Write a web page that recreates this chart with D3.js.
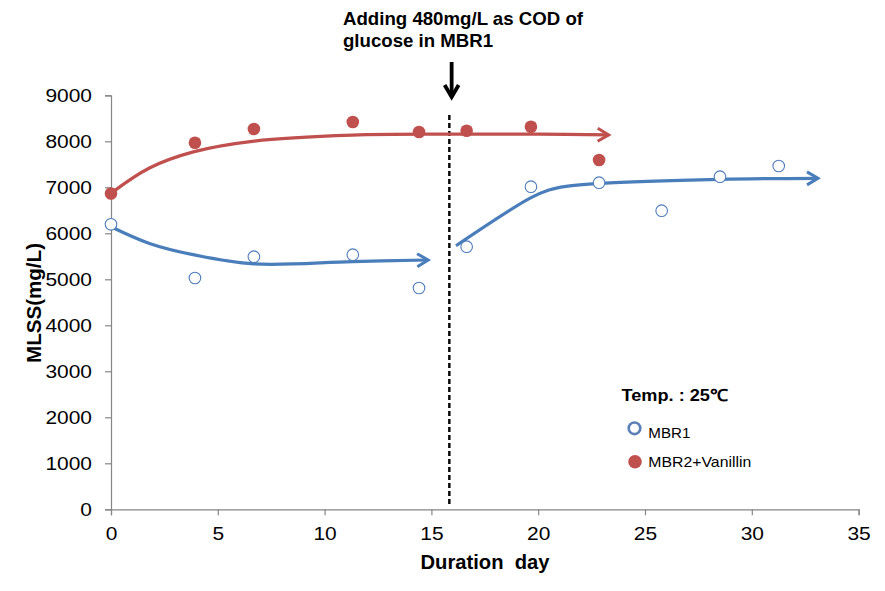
<!DOCTYPE html>
<html>
<head>
<meta charset="utf-8">
<script src="https://cdn.jsdelivr.net/npm/d3@7"></script>
<style>
  html, body { margin: 0; padding: 0; background: #fff; }
  svg { display: block; font-family: "Liberation Sans", Arial, sans-serif; }
</style>
</head>
<body>
<svg id="chart" width="885" height="591"></svg>
<script>
// ---- data ----
const xTicks = [0, 5, 10, 15, 20, 25, 30, 35];
const yTicks = [0, 1000, 2000, 3000, 4000, 5000, 6000, 7000, 8000, 9000];

// MBR1 (open circles)
const mbr1Day = [0, 3.93, 6.69, 11.32, 14.42, 16.65, 19.66, 22.85, 25.78, 28.51, 31.26];
const mbr1Mlss = [6196, 5028, 5491, 5535, 4811, 5709, 7013, 7100, 6491, 7230, 7463];

// MBR2+Vanillin (filled circles)
const mbr2Day = [0, 3.93, 6.69, 11.32, 14.42, 16.65, 19.66, 22.85];
const mbr2Mlss = [6865, 7970, 8267, 8420, 8202, 8230, 8317, 7593];

// hand-drawn trend arrows (day, MLSS)
const redTrendDay = [0, 1.8, 3.9, 6.7, 11.3, 15.9, 20.0, 23.3];
const redTrendVal = [6870, 7420, 7775, 8005, 8135, 8155, 8155, 8140];
const blueTrend1Day = [0, 1.8, 3.9, 6.7, 11.3, 14.85];
const blueTrend1Val = [6143, 5780, 5530, 5335, 5385, 5420];
const blueTrend2Day = [16.15, 19.6, 20.5, 21.3, 22.9, 28.5, 33.1];
const blueTrend2Val = [5730, 6760, 6940, 7020, 7085, 7172, 7196];

const eventDay = 15.84;
const annotationLines = ["Adding 480mg/L as COD of", "glucose in MBR1"];
const legendTitle = "Temp. : 25\u2103";
const seriesNames = ["MBR1", "MBR2+Vanillin"];
const xTitle = "Duration  day";
const yTitle = "MLSS(mg/L)";

// ---- styles ----
const RED = "#c0504d";
const BLUE = "#4a7ebb";
const AXIS = "#868686";
const WIDEN = 1.12;

const svg = d3.select("#chart");
const x = d3.scaleLinear().domain([0, 35]).range([111, 858.6]);
const y = d3.scaleLinear().domain([0, 9000]).range([509.3, 95.3]);

function widen(sel, f) {
  sel.each(function () {
    const w = this.getComputedTextLength();
    d3.select(this).attr("textLength", w * f).attr("lengthAdjust", "spacingAndGlyphs");
  });
}

// arrow markers
const defs = svg.append("defs");
function marker(id, color) {
  defs.append("marker")
    .attr("id", id)
    .attr("markerUnits", "userSpaceOnUse")
    .attr("markerWidth", 30).attr("markerHeight", 30)
    .attr("viewBox", "-15 -15 30 30")
    .attr("refX", 0).attr("refY", 0)
    .attr("orient", "auto")
    .append("path")
    .attr("d", "M-11,-6.5 L0,0 L-11,6.5")
    .attr("fill", "none")
    .attr("stroke", color)
    .attr("stroke-width", 3)
    .attr("stroke-linejoin", "miter");
}
marker("arRed", RED);
marker("arBlue", BLUE);

// axes
const yAxis = d3.axisLeft(y).tickValues(yTicks).tickSize(6).tickPadding(13).tickFormat(d3.format("d"));
const gy = svg.append("g").attr("transform", `translate(${x(0)},0)`).call(yAxis);
gy.select(".domain").attr("stroke", AXIS).attr("stroke-width", 1.2);
gy.selectAll(".tick line").attr("stroke", AXIS).attr("stroke-width", 1.2);
gy.selectAll(".tick text").attr("font-size", "18.7px").attr("fill", "#000")
  .attr("font-family", "Liberation Sans, Arial, sans-serif");
widen(gy.selectAll(".tick text"), WIDEN);

const xAxis = d3.axisBottom(x).tickValues(xTicks).tickSize(6).tickPadding(11);
const gx = svg.append("g").attr("transform", `translate(0,${y(0)})`).call(xAxis);
gx.select(".domain").attr("stroke", AXIS).attr("stroke-width", 1.2);
gx.selectAll(".tick line").attr("stroke", AXIS).attr("stroke-width", 1.2);
gx.selectAll(".tick text").attr("font-size", "18.7px").attr("fill", "#000")
  .attr("font-family", "Liberation Sans, Arial, sans-serif");
widen(gx.selectAll(".tick text"), WIDEN);

// axis titles
svg.append("text")
  .attr("x", 485).attr("y", 569)
  .attr("text-anchor", "middle")
  .attr("font-size", "19.5px").attr("font-weight", "bold")
  .attr("textLength", 129).attr("lengthAdjust", "spacingAndGlyphs")
  .attr("xml:space", "preserve")
  .text(xTitle);
svg.append("text")
  .attr("transform", "translate(41,303) rotate(-90)")
  .attr("text-anchor", "middle")
  .attr("font-size", "20.5px").attr("font-weight", "bold")
  .attr("textLength", 120).attr("lengthAdjust", "spacingAndGlyphs")
  .text(yTitle);

// event dashed line
svg.append("line")
  .attr("x1", x(eventDay)).attr("x2", x(eventDay))
  .attr("y1", 115).attr("y2", 504)
  .attr("stroke", "#000").attr("stroke-width", 2.4)
  .attr("stroke-dasharray", "5,3");

// annotation text and down arrow
svg.append("text")
  .attr("x", 343).attr("y", 25.3)
  .attr("font-size", "19px").attr("font-weight", "bold")
  .attr("textLength", 240).attr("lengthAdjust", "spacingAndGlyphs")
  .text(annotationLines[0]);
svg.append("text")
  .attr("x", 343).attr("y", 46.8)
  .attr("font-size", "19px").attr("font-weight", "bold")
  .attr("textLength", 150).attr("lengthAdjust", "spacingAndGlyphs")
  .text(annotationLines[1]);
const ax = x(eventDay) + 2.3;
svg.append("path")
  .attr("d", `M${ax},62 L${ax},96`)
  .attr("stroke", "#000").attr("stroke-width", 3.8).attr("fill", "none");
svg.append("path")
  .attr("d", `M${ax - 7},85 L${ax},97 L${ax + 7},85`)
  .attr("stroke", "#000").attr("stroke-width", 3.8).attr("fill", "none")
  .attr("stroke-linejoin", "miter");

// trend lines
const line = d3.line().x(d => x(d[0])).y(d => y(d[1])).curve(d3.curveCatmullRom.alpha(0.5));
function trend(days, vals, color, mk) {
  svg.append("path")
    .datum(days.map((d, i) => [d, vals[i]]))
    .attr("d", line)
    .attr("fill", "none")
    .attr("stroke", color)
    .attr("stroke-width", 3.2)
    .attr("stroke-linecap", "butt")
    .attr("marker-end", `url(#${mk})`);
}
trend(redTrendDay, redTrendVal, RED, "arRed");
trend(blueTrend1Day, blueTrend1Val, BLUE, "arBlue");
trend(blueTrend2Day, blueTrend2Val, BLUE, "arBlue");

// points
svg.append("g").selectAll("circle")
  .data(mbr2Day.map((d, i) => [d, mbr2Mlss[i]]))
  .join("circle")
  .attr("cx", d => x(d[0])).attr("cy", d => y(d[1]))
  .attr("r", 6.3).attr("fill", RED);

svg.append("g").selectAll("circle")
  .data(mbr1Day.map((d, i) => [d, mbr1Mlss[i]]))
  .join("circle")
  .attr("cx", d => x(d[0])).attr("cy", d => y(d[1]))
  .attr("r", 5.8).attr("fill", "#fff")
  .attr("stroke", "#4f7cbc").attr("stroke-width", 1.1);

// legend
svg.append("text")
  .attr("x", 621.5).attr("y", 400.5)
  .attr("font-size", "16.5px").attr("font-weight", "bold")
  .attr("textLength", 106).attr("lengthAdjust", "spacingAndGlyphs")
  .text(legendTitle);
svg.append("circle").attr("cx", 634.5).attr("cy", 428.3).attr("r", 5.8)
  .attr("fill", "#fff").attr("stroke", "#5b80b8").attr("stroke-width", 2.6);
svg.append("text").attr("x", 648.3).attr("y", 438.3)
  .attr("font-size", "14.5px").attr("textLength", 42).attr("lengthAdjust", "spacingAndGlyphs")
  .text(seriesNames[0]);
svg.append("circle").attr("cx", 635).attr("cy", 461.7).attr("r", 6.8)
  .attr("fill", RED);
svg.append("text").attr("x", 648.3).attr("y", 467.3)
  .attr("font-size", "14.5px").attr("textLength", 103).attr("lengthAdjust", "spacingAndGlyphs")
  .text(seriesNames[1]);
</script>
</body>
</html>
